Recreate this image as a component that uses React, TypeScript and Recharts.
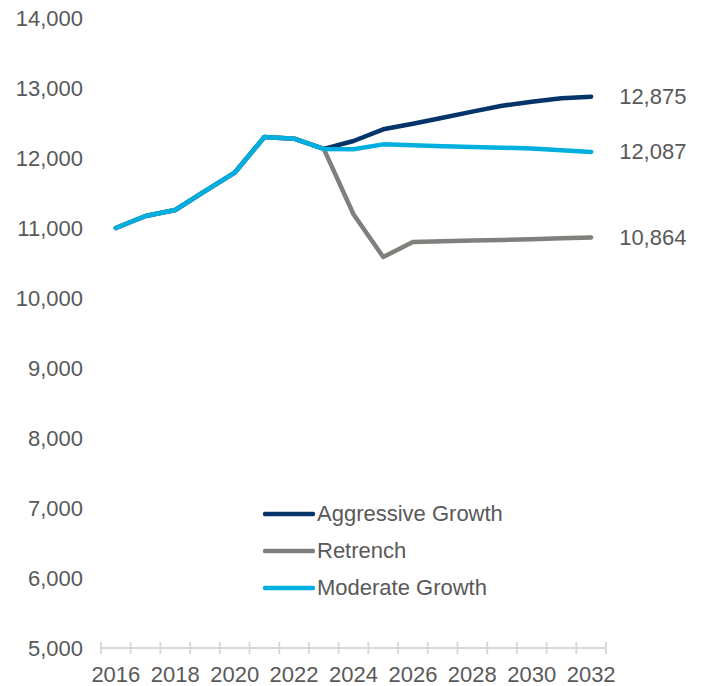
import React from 'react';
import { LineChart, Line, XAxis, YAxis, Legend, LabelList } from 'recharts';

const years = [2016, 2017, 2018, 2019, 2020, 2021, 2022, 2023, 2024, 2025, 2026, 2027, 2028, 2029, 2030, 2031, 2032];
const aggressive = [11000, 11171, 11257, 11528, 11790, 12300, 12276, 12130, 12243, 12410, 12490, 12576, 12662, 12747, 12804, 12853, 12875];
const retrench = [11000, 11171, 11257, 11528, 11790, 12300, 12276, 12130, 11196, 10586, 10800, 10810, 10820, 10830, 10840, 10852, 10864];
const moderate = [11000, 11171, 11257, 11528, 11790, 12300, 12276, 12130, 12124, 12195, 12181, 12167, 12157, 12148, 12134, 12110, 12087];
const yTicks = [5000, 6000, 7000, 8000, 9000, 10000, 11000, 12000, 13000, 14000];
const labelYears = [2016, 2018, 2020, 2022, 2024, 2026, 2028, 2030, 2032];
const markPositions = [2015.5, 2016.5, 2017.5, 2018.5, 2019.5, 2020.5, 2021.5, 2022.5, 2023.5, 2024.5, 2025.5, 2026.5, 2027.5, 2028.5, 2029.5, 2030.5, 2031.5, 2032.5];

const series = [
  { key: 'aggressive', name: 'Aggressive Growth', color: '#04346a', values: aggressive },
  { key: 'retrench', name: 'Retrench', color: '#7f7f7b', values: retrench },
  { key: 'moderate', name: 'Moderate Growth', color: '#00afdf', values: moderate },
];

const data = years.map((y, i) => ({
  year: y,
  aggressive: aggressive[i],
  retrench: retrench[i],
  moderate: moderate[i],
}));

const xTicks = [...markPositions, ...labelYears].sort((a, b) => a - b);

const FONT = '"Liberation Sans", Arial, sans-serif';
const TEXT = '#595959';
const FS = 22;
const fmt = (v: number) => v.toLocaleString('en-US');

const XTick = (props: any) => {
  const { x, y, payload } = props;
  const v = payload.value as number;
  if (v % 1 !== 0) {
    return <line x1={x} x2={x} y1={y - 6} y2={y + 6} stroke="#d9d9d9" strokeWidth={2} />;
  }
  return (
    <text x={x} y={y + 18} dy="0.71em" textAnchor="middle" fill={TEXT} fontSize={FS} fontFamily={FONT}>
      {v}
    </text>
  );
};

const LegendContent = () => (
  <div style={{ fontFamily: FONT }}>
    {series.map((s) => (
      <div key={s.key} style={{ display: 'flex', alignItems: 'center', height: 36.7 }}>
        <svg width={52} height={8} style={{ display: 'block' }}>
          <line x1={2} x2={50} y1={4} y2={4} stroke={s.color} strokeWidth={4.5} strokeLinecap="round" />
        </svg>
        <span style={{ fontSize: FS, color: TEXT, marginLeft: 2, whiteSpace: 'nowrap' }}>{s.name}</span>
      </div>
    ))}
  </div>
);

const lastIndex = years.length - 1;
const endLabel = (p: any) => {
  if (p.index !== lastIndex) return null;
  return (
    <text x={p.x + 28} y={p.y} dominantBaseline="central" textAnchor="start" fill={TEXT} fontSize={FS} fontFamily={FONT}>
      {fmt(p.value)}
    </text>
  );
};

export default function App() {
  return (
    <div style={{ margin: '-8px 0 0 -8px', width: 704, height: 686 }}>
      <LineChart width={704} height={686} data={data} margin={{ top: 18, right: 98, bottom: 0, left: 0 }}>
        <XAxis
          dataKey="year"
          type="number"
          domain={[2015.5, 2032.5]}
          ticks={xTicks}
          interval={0}
          tick={<XTick />}
          tickLine={false}
          tickSize={0}
          tickMargin={0}
          height={38}
          axisLine={{ stroke: '#d9d9d9', strokeWidth: 2 }}
          allowDataOverflow
        />
        <YAxis
          domain={[5000, 14000]}
          ticks={yTicks}
          interval={0}
          tickFormatter={fmt}
          axisLine={false}
          tickLine={false}
          tickSize={0}
          tickMargin={18}
          width={101}
          tick={{ fill: TEXT, fontSize: FS, fontFamily: FONT }}
        />
        {series.map((s) => (
          <Line
            key={s.key}
            dataKey={s.key}
            name={s.name}
            stroke={s.color}
            strokeWidth={4.5}
            strokeLinecap="round"
            strokeLinejoin="round"
            dot={false}
            activeDot={false}
            isAnimationActive={false}
          >
            <LabelList dataKey={s.key} content={endLabel} />
          </Line>
        ))}
        <Legend
          layout="vertical"
          align="center"
          verticalAlign="middle"
          content={<LegendContent />}
          wrapperStyle={{ left: 263, top: 496, width: 'auto' }}
        />
      </LineChart>
    </div>
  );
}
